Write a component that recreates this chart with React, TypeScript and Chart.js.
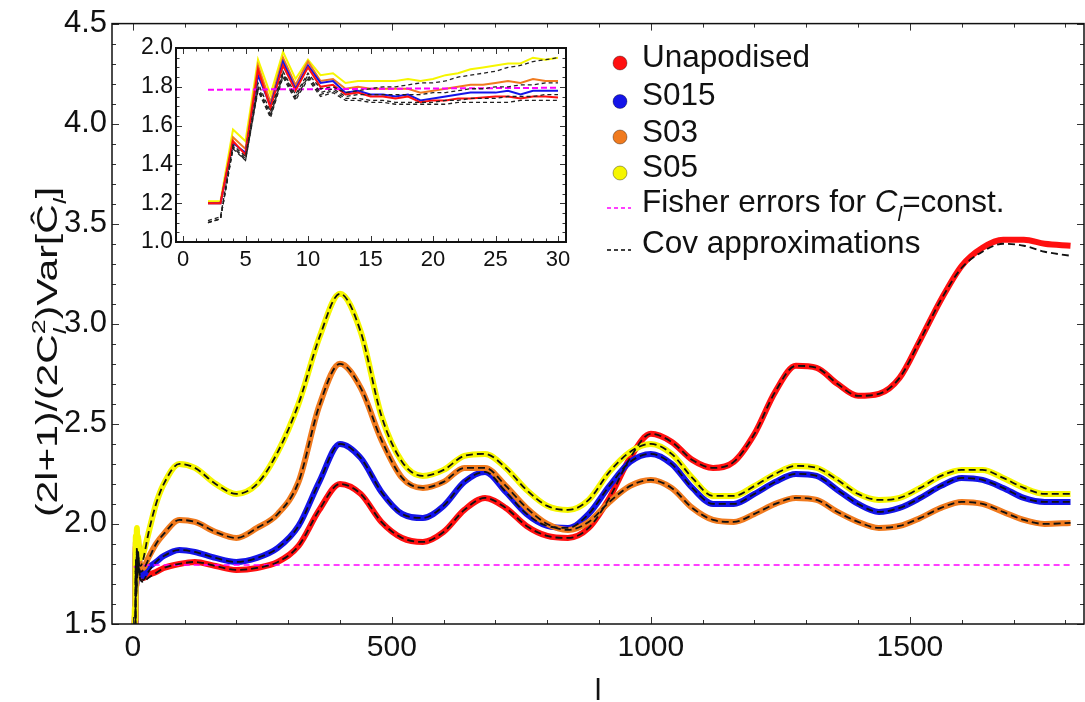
import React, { useEffect, useRef } from "react";
import { Chart, registerables } from "chart.js";

Chart.register(...registerables);

// ---------------- main plot data ----------------
const ell = [2, 3, 4, 5, 6, 7, 8, 9, 10, 12, 15, 20, 30, 45, 60, 90, 120, 160,
  200, 240, 280, 320, 360, 400, 440, 480, 520, 560, 600, 640, 680, 720, 760, 800, 840, 880, 920, 960,
  1000, 1040, 1080, 1120, 1160, 1200, 1240, 1280, 1320, 1360, 1400, 1440, 1480, 1520, 1560, 1600, 1640,
  1680, 1720, 1760, 1810];

const unapodised = [1.20, 1.20, 1.52, 1.45, 1.89, 1.69, 1.91, 1.78, 1.90,
  1.81, 1.75, 1.73, 1.745, 1.76, 1.78, 1.80, 1.81, 1.79,
  1.77, 1.78, 1.81, 1.89, 2.07, 2.20, 2.15, 2.01, 1.93, 1.91,
  1.96, 2.07, 2.13, 2.08, 1.99, 1.94, 1.93, 1.98, 2.13, 2.33,
  2.45, 2.41, 2.32, 2.28, 2.31, 2.45, 2.66, 2.79, 2.78, 2.70,
  2.64, 2.65, 2.73, 2.92, 3.12, 3.29, 3.38, 3.42, 3.42, 3.40,
  3.39];
const covUnapodised = [1.10, 1.12, 1.48, 1.42, 1.78, 1.64, 1.85, 1.73, 1.84,
  1.77, 1.72, 1.71, 1.73, 1.755, 1.78, 1.80, 1.81, 1.79,
  1.77, 1.78, 1.81, 1.89, 2.07, 2.20, 2.15, 2.01, 1.93, 1.91,
  1.96, 2.07, 2.13, 2.08, 1.99, 1.94, 1.93, 1.98, 2.13, 2.33,
  2.45, 2.41, 2.32, 2.28, 2.31, 2.45, 2.66, 2.79, 2.78, 2.70,
  2.64, 2.65, 2.73, 2.92, 3.12, 3.28, 3.36, 3.40, 3.39, 3.36,
  3.34];

const s015 = [1.20, 1.20, 1.51, 1.46, 1.86, 1.70, 1.93, 1.79, 1.91,
  1.83, 1.76, 1.74, 1.78, 1.81, 1.84, 1.87, 1.86, 1.83,
  1.81, 1.83, 1.88, 1.99, 2.21, 2.40, 2.33, 2.16, 2.05, 2.03,
  2.09, 2.21, 2.26, 2.16, 2.05, 1.99, 1.98, 2.05, 2.19, 2.31,
  2.35, 2.30, 2.18, 2.10, 2.10, 2.15, 2.21, 2.25, 2.24, 2.17,
  2.10, 2.06, 2.08, 2.13, 2.19, 2.23, 2.22, 2.18, 2.13, 2.11,
  2.11];
const covS015 = [1.10, 1.12, 1.49, 1.42, 1.79, 1.65, 1.86, 1.74, 1.85,
  1.78, 1.73, 1.72, 1.76, 1.81, 1.84, 1.87, 1.86, 1.83,
  1.81, 1.83, 1.88, 1.99, 2.21, 2.40, 2.33, 2.16, 2.05, 2.03,
  2.09, 2.21, 2.26, 2.16, 2.05, 1.99, 1.98, 2.05, 2.19, 2.31,
  2.35, 2.30, 2.18, 2.10, 2.10, 2.15, 2.21, 2.25, 2.24, 2.17,
  2.10, 2.06, 2.08, 2.13, 2.19, 2.23, 2.22, 2.18, 2.13, 2.11,
  2.11];

const s03 = [1.20, 1.20, 1.54, 1.48, 1.91, 1.72, 1.95, 1.81, 1.93,
  1.84, 1.79, 1.78, 1.83, 1.90, 1.95, 2.02, 2.01, 1.96,
  1.93, 1.98, 2.05, 2.21, 2.59, 2.80, 2.68, 2.42, 2.23, 2.18,
  2.21, 2.28, 2.28, 2.19, 2.08, 2.00, 1.97, 2.01, 2.11, 2.19,
  2.22, 2.18, 2.08, 2.02, 2.01, 2.05, 2.10, 2.13, 2.12, 2.06,
  2.01, 1.98, 1.99, 2.03, 2.08, 2.11, 2.10, 2.06, 2.02, 2.00,
  2.005];
const covS03 = [1.10, 1.12, 1.49, 1.43, 1.80, 1.66, 1.87, 1.75, 1.86,
  1.79, 1.76, 1.77, 1.82, 1.90, 1.95, 2.02, 2.01, 1.96,
  1.93, 1.98, 2.05, 2.21, 2.59, 2.80, 2.68, 2.42, 2.23, 2.18,
  2.21, 2.28, 2.28, 2.19, 2.08, 2.00, 1.97, 2.01, 2.11, 2.19,
  2.22, 2.18, 2.08, 2.02, 2.01, 2.05, 2.10, 2.13, 2.12, 2.06,
  2.01, 1.98, 1.99, 2.03, 2.08, 2.11, 2.10, 2.06, 2.02, 2.00,
  2.005];

const s05 = [1.21, 1.21, 1.58, 1.52, 1.94, 1.76, 1.98, 1.84, 1.94,
  1.87, 1.83, 1.85, 1.95, 2.10, 2.20, 2.30, 2.28, 2.20,
  2.15, 2.20, 2.36, 2.60, 2.93, 3.15, 2.96, 2.54, 2.31, 2.24,
  2.27, 2.34, 2.35, 2.28, 2.17, 2.09, 2.07, 2.12, 2.26, 2.36,
  2.40, 2.35, 2.23, 2.14, 2.14, 2.19, 2.25, 2.29, 2.28, 2.22,
  2.15, 2.12, 2.13, 2.18, 2.24, 2.27, 2.27, 2.23, 2.18, 2.15,
  2.15];
const covS05 = [1.11, 1.13, 1.50, 1.44, 1.82, 1.67, 1.88, 1.76, 1.87,
  1.80, 1.79, 1.82, 1.95, 2.10, 2.20, 2.30, 2.28, 2.20,
  2.15, 2.20, 2.36, 2.60, 2.93, 3.15, 2.96, 2.54, 2.31, 2.24,
  2.27, 2.34, 2.35, 2.28, 2.17, 2.09, 2.07, 2.12, 2.26, 2.36,
  2.40, 2.35, 2.23, 2.14, 2.14, 2.19, 2.25, 2.29, 2.28, 2.22,
  2.15, 2.12, 2.13, 2.18, 2.24, 2.27, 2.27, 2.23, 2.18, 2.15,
  2.15];

const fisherL = [2, 30, 1810];
const fisherMain = [1.785, 1.795, 1.795];

// main axes ticks
const xMajorTicks = [0, 500, 1000, 1500];
const yMajorTicks = [1.5, 2.0, 2.5, 3.0, 3.5, 4.0, 4.5];

// ---------------- inset data (l = 2..30) ----------------
const insetL = [2, 3, 4, 5, 6, 7, 8, 9, 10, 11, 12, 13, 14, 15, 16, 17, 18, 19, 20, 21, 22, 23, 24, 25, 26, 27, 28, 29, 30];
const insetS05 = [1.21, 1.21, 1.58, 1.52, 1.94, 1.76, 1.98, 1.84, 1.94, 1.86, 1.87, 1.82, 1.83, 1.83, 1.83, 1.83, 1.84, 1.83, 1.84, 1.86, 1.87, 1.89, 1.90, 1.91, 1.92, 1.92, 1.95, 1.94, 1.95];
const insetS03 = [1.20, 1.20, 1.54, 1.48, 1.91, 1.72, 1.95, 1.81, 1.93, 1.83, 1.84, 1.79, 1.80, 1.79, 1.79, 1.79, 1.79, 1.77, 1.78, 1.79, 1.80, 1.81, 1.81, 1.82, 1.83, 1.82, 1.84, 1.83, 1.83];
const insetS015 = [1.20, 1.20, 1.51, 1.46, 1.86, 1.70, 1.93, 1.79, 1.91, 1.82, 1.83, 1.77, 1.78, 1.76, 1.76, 1.75, 1.76, 1.73, 1.74, 1.75, 1.76, 1.77, 1.77, 1.77, 1.78, 1.76, 1.78, 1.78, 1.78];
const insetUnapodised = [1.20, 1.20, 1.52, 1.45, 1.89, 1.69, 1.91, 1.78, 1.90, 1.80, 1.81, 1.76, 1.77, 1.75, 1.75, 1.74, 1.75, 1.72, 1.73, 1.73, 1.74, 1.74, 1.745, 1.75, 1.75, 1.74, 1.75, 1.75, 1.745];
const insetCovS05 = [1.11, 1.13, 1.50, 1.44, 1.82, 1.67, 1.88, 1.76, 1.87, 1.79, 1.80, 1.77, 1.78, 1.79, 1.80, 1.80, 1.81, 1.82, 1.82, 1.83, 1.85, 1.86, 1.87, 1.88, 1.90, 1.91, 1.93, 1.94, 1.95];
const insetCovS03 = [1.10, 1.12, 1.49, 1.43, 1.80, 1.66, 1.87, 1.75, 1.86, 1.77, 1.79, 1.75, 1.76, 1.76, 1.76, 1.76, 1.76, 1.76, 1.77, 1.77, 1.78, 1.79, 1.79, 1.80, 1.80, 1.81, 1.81, 1.82, 1.82];
const insetCovS015 = [1.10, 1.12, 1.49, 1.42, 1.79, 1.65, 1.86, 1.74, 1.85, 1.76, 1.78, 1.74, 1.74, 1.73, 1.73, 1.72, 1.72, 1.72, 1.72, 1.73, 1.73, 1.74, 1.74, 1.74, 1.75, 1.75, 1.75, 1.76, 1.76];
const insetCovUnapodised = [1.10, 1.12, 1.48, 1.42, 1.78, 1.64, 1.85, 1.73, 1.84, 1.75, 1.77, 1.73, 1.73, 1.72, 1.72, 1.71, 1.71, 1.71, 1.71, 1.71, 1.72, 1.72, 1.72, 1.72, 1.72, 1.73, 1.73, 1.73, 1.73];
const insetFisherL = [2, 30];
const insetFisher = [1.785, 1.795];
const insetXTicks = [0, 5, 10, 15, 20, 25, 30];
const insetYTicks = [1.0, 1.2, 1.4, 1.6, 1.8, 2.0];

const legendLabels = ["Unapodised", "S015", "S03", "S05"];

// ---------------- styles ----------------
const FONT = '"Liberation Sans", Arial, Helvetica, sans-serif';
const RED = "#ff1010";
const BLUE = "#1414e8";
const ORANGE = "#f07a1e";
const YELLOW = "#f6f600";
const MAGENTA = "#ff00ff";
const INK = "#111111";

type Part = { t: string; it?: boolean; sub?: boolean; sup?: boolean; noAdv?: boolean };

function partFont(p: Part, size: number) {
  const s = p.sub || p.sup ? size * 0.66 : size;
  return `${p.it ? "italic " : ""}${s}px ${FONT}`;
}
function richWidth(ctx: CanvasRenderingContext2D, parts: Part[], size: number) {
  let w = 0;
  for (const p of parts) {
    ctx.font = partFont(p, size);
    if (!p.noAdv) w += ctx.measureText(p.t).width;
  }
  return w;
}
function drawRich(ctx: CanvasRenderingContext2D, parts: Part[], x: number, y: number, size: number) {
  let cx = x;
  for (const p of parts) {
    ctx.font = partFont(p, size);
    const dy = p.sub ? size * 0.3 : p.sup ? -size * 0.42 : 0;
    ctx.fillText(p.t, cx, y + dy);
    if (!p.noAdv) cx += ctx.measureText(p.t).width;
  }
}

const pts = (xs: number[], ys: number[]) => xs.map((x, i) => ({ x, y: ys[i] }));

function range(a: number, b: number, step: number) {
  const out: number[] = [];
  for (let v = a; v <= b + 1e-9; v += step) out.push(Math.round(v * 1000) / 1000);
  return out;
}

function framePlugin(id: string, spec: {
  xMajor: number[]; xMinor: number[]; yMajor: number[]; yMinor: number[];
  majorLen: number; minorLen: number; frameWidth: number; whiteBg?: boolean;
}) {
  return {
    id,
    beforeDraw(chart: any) {
      if (!spec.whiteBg) return;
      const { ctx, chartArea: a } = chart;
      ctx.save();
      ctx.fillStyle = "#ffffff";
      ctx.fillRect(a.left, a.top, a.right - a.left, a.bottom - a.top);
      ctx.restore();
    },
    afterDatasetsDraw(chart: any) {
      const { ctx, chartArea: a, scales } = chart;
      const xs = scales.x, ys = scales.y;
      ctx.save();
      ctx.strokeStyle = "#333";
      ctx.lineWidth = 1;
      const tx = (v: number, len: number) => {
        const px = Math.round(xs.getPixelForValue(v)) + 0.5;
        ctx.beginPath();
        ctx.moveTo(px, a.bottom); ctx.lineTo(px, a.bottom - len);
        ctx.moveTo(px, a.top); ctx.lineTo(px, a.top + len);
        ctx.stroke();
      };
      const ty = (v: number, len: number) => {
        const py = Math.round(ys.getPixelForValue(v)) + 0.5;
        ctx.beginPath();
        ctx.moveTo(a.left, py); ctx.lineTo(a.left + len, py);
        ctx.moveTo(a.right, py); ctx.lineTo(a.right - len, py);
        ctx.stroke();
      };
      spec.xMinor.forEach((v) => tx(v, spec.minorLen));
      spec.xMajor.forEach((v) => tx(v, spec.majorLen));
      spec.yMinor.forEach((v) => ty(v, spec.minorLen));
      spec.yMajor.forEach((v) => ty(v, spec.majorLen));
      ctx.strokeStyle = "#111";
      ctx.lineWidth = spec.frameWidth;
      ctx.strokeRect(a.left, a.top, a.right - a.left, a.bottom - a.top);
      ctx.restore();
    },
  };
}

const mainTextPlugin = {
  id: "mainText",
  afterDraw(chart: any) {
    const ctx: CanvasRenderingContext2D = chart.ctx;
    ctx.save();
    ctx.fillStyle = INK;
    ctx.textBaseline = "alphabetic";
    ctx.textAlign = "left";

    // legend
    const colors = [RED, BLUE, ORANGE, YELLOW];
    const dotY = [63, 101.5, 137, 173];
    const baseY = [67, 105, 141.5, 176.5];
    const lsize = 31.5;
    legendLabels.forEach((lab, i) => {
      ctx.beginPath();
      ctx.arc(620, dotY[i], 7, 0, Math.PI * 2);
      ctx.fillStyle = colors[i];
      ctx.fill();
      ctx.lineWidth = 1;
      ctx.strokeStyle = "rgba(0,0,0,0.35)";
      ctx.stroke();
      ctx.fillStyle = INK;
      ctx.font = `${lsize}px ${FONT}`;
      ctx.fillText(lab, 642, baseY[i]);
    });
    ctx.lineWidth = 1.6;
    ctx.setLineDash([4, 3]);
    ctx.strokeStyle = MAGENTA;
    ctx.beginPath(); ctx.moveTo(607, 208); ctx.lineTo(631, 208); ctx.stroke();
    ctx.strokeStyle = "#000";
    ctx.beginPath(); ctx.moveTo(607, 250); ctx.lineTo(631, 250); ctx.stroke();
    ctx.setLineDash([]);
    ctx.fillStyle = INK;
    drawRich(ctx, [{ t: "Fisher errors for " }, { t: "C", it: true }, { t: "l", it: true, sub: true }, { t: "=const." }], 642, 212, lsize);
    ctx.font = `${lsize}px ${FONT}`;
    ctx.fillText("Cov approximations", 642, 253);

    // x title
    ctx.font = `30px ${FONT}`;
    ctx.textAlign = "center";
    ctx.fillText("l", 598, 700);

    // y title
    const tparts: Part[] = [
      { t: "(2l+1)/(2C" }, { t: "l", it: true, sub: true, noAdv: true }, { t: "2", sup: true },
      { t: ")Var[" }, { t: "\u0108" }, { t: "l", it: true, sub: true }, { t: "]" },
    ];
    const tsize = 29;
    const w = richWidth(ctx, tparts, tsize);
    const target = 330;
    ctx.textAlign = "left";
    ctx.translate(47, 352);
    ctx.rotate(-Math.PI / 2);
    ctx.scale(target / w, 1);
    drawRich(ctx, tparts, -w / 2, tsize * 0.36, tsize);
    ctx.restore();
  },
};

function bandDs(xs: number[], ys: number[], color: string) {
  return {
    data: pts(xs, ys), borderColor: color, backgroundColor: color, borderWidth: 6,
    pointRadius: 0, cubicInterpolationMode: "monotone" as const, fill: false, clip: 0,
  };
}
function covDs(xs: number[], ys: number[]) {
  return {
    data: pts(xs, ys), borderColor: "#111", borderWidth: 1.8, borderDash: [7, 4],
    pointRadius: 0, cubicInterpolationMode: "monotone" as const, fill: false, clip: 0,
  };
}

function mainConfig(): any {
  return {
    type: "line",
    data: {
      datasets: [
        covDs(ell, covS05), covDs(ell, covS03), covDs(ell, covS015), covDs(ell, covUnapodised),
        { data: pts(fisherL, fisherMain), borderColor: MAGENTA, borderWidth: 1.6, borderDash: [6, 4], pointRadius: 0, tension: 0, fill: false, clip: 0 },
        bandDs(ell, s05, YELLOW), bandDs(ell, s03, ORANGE), bandDs(ell, s015, BLUE), bandDs(ell, unapodised, RED),
      ],
    },
    options: {
      responsive: false, animation: false, devicePixelRatio: 1,
      layout: { padding: { top: 20, right: 1, left: 0, bottom: 0 } },
      plugins: { legend: { display: false }, tooltip: { enabled: false } },
      scales: {
        x: {
          type: "linear", min: -40, max: 1836,
          grid: { display: false, drawTicks: false }, border: { display: false },
          ticks: { font: { size: 30, family: FONT }, color: INK, padding: 6, autoSkip: false, maxRotation: 0, callback: (v: number) => String(v) },
          afterBuildTicks: (s: any) => { s.ticks = xMajorTicks.map((v) => ({ value: v })); },
          afterFit: (s: any) => { s.height = 78; },
        },
        y: {
          type: "linear", min: 1.5, max: 4.5,
          grid: { display: false, drawTicks: false }, border: { display: false },
          ticks: { font: { size: 31, family: FONT }, color: INK, padding: 5, autoSkip: false, callback: (v: number) => v.toFixed(1) },
          afterBuildTicks: (s: any) => { s.ticks = yMajorTicks.map((v) => ({ value: v })); },
          afterFit: (s: any) => { s.width = 112; },
        },
      },
    },
    plugins: [
      framePlugin("mainFrame", {
        xMajor: xMajorTicks, xMinor: range(0, 1800, 100), yMajor: yMajorTicks, yMinor: range(1.5, 4.5, 0.1),
        majorLen: 7, minorLen: 4, frameWidth: 1.5,
      }),
      mainTextPlugin,
    ],
  };
}

function insetLine(xs: number[], ys: number[], color: string) {
  return { data: pts(xs, ys), borderColor: color, borderWidth: 2, pointRadius: 0, tension: 0, fill: false, clip: 0 };
}
function insetCov(xs: number[], ys: number[]) {
  return { data: pts(xs, ys), borderColor: "#222", borderWidth: 1.3, borderDash: [4, 3], pointRadius: 0, tension: 0, fill: false, clip: 0 };
}

function insetConfig(): any {
  return {
    type: "line",
    data: {
      datasets: [
        insetCov(insetL, insetCovS05), insetCov(insetL, insetCovS03), insetCov(insetL, insetCovS015), insetCov(insetL, insetCovUnapodised),
        { data: pts(insetFisherL, insetFisher), borderColor: MAGENTA, borderWidth: 2, borderDash: [6, 3], pointRadius: 0, tension: 0, fill: false, clip: 0 },
        insetLine(insetL, insetUnapodised, RED), insetLine(insetL, insetS015, BLUE),
        insetLine(insetL, insetS03, ORANGE), insetLine(insetL, insetS05, YELLOW),
      ],
    },
    options: {
      responsive: false, animation: false, devicePixelRatio: 1,
      layout: { padding: { top: 18, right: 14, left: 0, bottom: 0 } },
      plugins: { legend: { display: false }, tooltip: { enabled: false } },
      scales: {
        x: {
          type: "linear", min: -0.56, max: 30.64,
          grid: { display: false, drawTicks: false }, border: { display: false },
          ticks: { font: { size: 22, family: FONT }, color: INK, padding: 5, autoSkip: false, maxRotation: 0, callback: (v: number) => String(v) },
          afterBuildTicks: (s: any) => { s.ticks = insetXTicks.map((v) => ({ value: v })); },
          afterFit: (s: any) => { s.height = 38; },
        },
        y: {
          type: "linear", min: 1.0, max: 2.0,
          grid: { display: false, drawTicks: false }, border: { display: false },
          ticks: { font: { size: 23, family: FONT }, color: INK, padding: 3, autoSkip: false, callback: (v: number) => v.toFixed(1) },
          afterBuildTicks: (s: any) => { s.ticks = insetYTicks.map((v) => ({ value: v })); },
          afterFit: (s: any) => { s.width = 56; },
        },
      },
    },
    plugins: [
      framePlugin("insetFrame", {
        xMajor: insetXTicks, xMinor: range(0, 30, 1), yMajor: insetYTicks, yMinor: range(1.0, 2.0, 0.05),
        majorLen: 6, minorLen: 3.5, frameWidth: 2, whiteBg: true,
      }),
    ],
  };
}

export default function App() {
  const mainRef = useRef<HTMLCanvasElement>(null);
  const insetRef = useRef<HTMLCanvasElement>(null);
  useEffect(() => {
    const main = new Chart(mainRef.current as HTMLCanvasElement, mainConfig());
    const inset = new Chart(insetRef.current as HTMLCanvasElement, insetConfig());
    return () => {
      main.destroy();
      inset.destroy();
    };
  }, []);
  return (
    <div style={{ position: "absolute", left: 0, top: 0, width: 1085, height: 702, background: "#ffffff", overflow: "hidden" }}>
      <canvas ref={mainRef} width={1085} height={702} style={{ position: "absolute", left: 0, top: 0 }} />
      <canvas ref={insetRef} width={460} height={250} style={{ position: "absolute", left: 120, top: 30 }} />
    </div>
  );
}
